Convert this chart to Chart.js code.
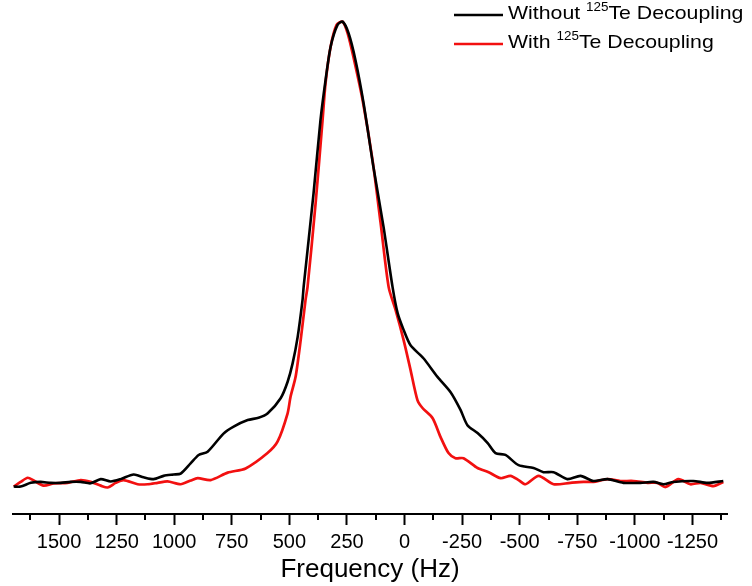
<!DOCTYPE html>
<html>
<head>
<meta charset="utf-8">
<script src="https://cdn.jsdelivr.net/npm/chart.js@4.4.1/dist/chart.umd.min.js"></script>
<style>
  html, body { margin: 0; padding: 0; background: #fff; }
  #wrap { width: 752px; height: 586px; }
</style>
</head>
<body>
<div id="wrap"><canvas id="spectrum" width="752" height="586"></canvas></div>
<script>
// Frequency (Hz) and intensity (peak = 100)
const blackFreq = [1697, 1667, 1623, 1580, 1536, 1493, 1450, 1406, 1363, 1319, 1276, 1233, 1176, 1133, 1089, 1046, 1003, 972, 929, 894, 855, 786, 742, 681, 634, 595, 538, 508, 486, 464, 443, 438, 395, 365, 343, 321, 291, 269, 243, 213, 178, 135, 91, 52, 30, 4, -26, -82, -143, -200, -243, -273, -317, -360, -395, -438, -495, -560, -603, -647, -707, -764, -820, -881, -950, -1024, -1081, -1124, -1167, -1254, -1315, -1384];
const blackInt = [0.1, 0.1, 0.9, 1.1, 0.9, 0.9, 1.1, 1.1, 0.8, 1.7, 1.2, 1.7, 2.7, 2.1, 1.7, 2.4, 2.7, 2.9, 5.1, 6.9, 7.6, 11.5, 13.0, 14.4, 14.9, 15.8, 19.1, 22.6, 26.6, 32.3, 40.2, 43.1, 63.2, 78.9, 87.5, 94.7, 99.4, 100.1, 97.6, 91.8, 82.6, 68.8, 55.9, 43.0, 37.4, 33.8, 30.5, 27.7, 23.7, 20.4, 16.6, 13.3, 11.6, 9.5, 7.3, 6.9, 4.7, 4.1, 3.2, 3.2, 1.7, 2.4, 1.3, 1.7, 0.9, 0.9, 1.1, 0.6, 1.1, 1.3, 0.9, 1.3];

const redFreq = [1697, 1667, 1636, 1610, 1567, 1523, 1463, 1406, 1363, 1319, 1289, 1254, 1220, 1159, 1115, 1072, 1029, 972, 929, 898, 842, 768, 690, 595, 551, 508, 495, 473, 451, 430, 421, 386, 356, 343, 321, 295, 269, 247, 221, 182, 139, 104, 69, 39, 4, -26, -56, -78, -122, -156, -191, -221, -256, -317, -365, -417, -460, -495, -525, -582, -647, -720, -777, -820, -881, -937, -994, -1055, -1098, -1133, -1189, -1241, -1285, -1341, -1384];
const redInt = [0.1, 1.1, 2.0, 1.4, 0.3, 0.8, 0.9, 1.5, 1.1, 0.3, -0.1, 0.9, 1.5, 0.6, 0.6, 0.9, 1.2, 0.6, 1.4, 1.9, 1.5, 3.1, 4.0, 7.3, 9.8, 15.8, 19.4, 23.7, 31.6, 40.2, 43.1, 61.1, 78.9, 86.9, 94.7, 99.4, 100.1, 97.6, 92.3, 83.2, 70.3, 56.8, 43.0, 38.1, 31.6, 25.2, 18.7, 17.0, 14.8, 10.8, 7.3, 6.2, 6.2, 4.1, 3.2, 1.9, 2.4, 1.5, 0.6, 2.4, 0.6, 0.9, 1.1, 1.1, 1.7, 1.3, 1.3, 0.9, 0.9, 0.0, 1.7, 0.6, 0.9, 0.2, 1.1];

const xMin = -1400;
const xMax = 1700;
const tickStep = 125;

const seriesNames = ['Without', 'With'];
const seriesColors = ['#000000', '#f21010'];

function toPoints(freqs, ints) {
  return freqs.map((f, i) => ({ x: f, y: ints[i] }));
}

function isMajor(value) {
  return Math.abs(value) % 250 === 0;
}

// minor ticks are shorter than the major ones, so draw them separately
const minorTicks = {
  id: 'minorTicks',
  afterDraw(chart) {
    const scale = chart.scales.x;
    const ctx = chart.ctx;
    ctx.save();
    ctx.strokeStyle = '#000';
    ctx.lineWidth = 2;
    scale.ticks.forEach((t) => {
      if (isMajor(t.value)) return;
      const px = Math.round(scale.getPixelForValue(t.value));
      ctx.beginPath();
      ctx.moveTo(px, scale.top);
      ctx.lineTo(px, scale.top + 6);
      ctx.stroke();
    });
    ctx.restore();
  },
};

// legend with superscript isotope labels
const isotopeLegend = {
  id: 'isotopeLegend',
  afterDraw(chart) {
    const ctx = chart.ctx;
    const rows = [15, 44];
    ctx.save();
    seriesNames.forEach((name, i) => {
      const y = rows[i];
      ctx.strokeStyle = seriesColors[i];
      ctx.lineWidth = 2.6;
      ctx.beginPath();
      ctx.moveTo(454, y);
      ctx.lineTo(503, y);
      ctx.stroke();

      ctx.save();
      ctx.translate(508, y + 4);
      ctx.scale(1.12, 1);
      ctx.fillStyle = '#000';
      ctx.textBaseline = 'alphabetic';
      ctx.font = '19px "Liberation Sans", Arial, sans-serif';
      let x = 0;
      const first = name + ' ';
      ctx.fillText(first, x, 0);
      x += ctx.measureText(first).width;
      ctx.font = '12px "Liberation Sans", Arial, sans-serif';
      ctx.fillText('125', x, -8);
      x += ctx.measureText('125').width;
      ctx.font = '19px "Liberation Sans", Arial, sans-serif';
      ctx.fillText('Te Decoupling', x, 0);
      ctx.restore();
    });
    ctx.restore();
  },
};

new Chart(document.getElementById('spectrum'), {
  type: 'line',
  data: {
    datasets: [
      {
        label: 'Without 125Te Decoupling',
        data: toPoints(blackFreq, blackInt),
        borderColor: seriesColors[0],
        borderWidth: 2.6,
        pointRadius: 0,
        tension: 0.25,
        fill: false,
      },
      {
        label: 'With 125Te Decoupling',
        data: toPoints(redFreq, redInt),
        borderColor: seriesColors[1],
        borderWidth: 2.7,
        pointRadius: 0,
        tension: 0.25,
        fill: false,
      },
    ],
  },
  options: {
    responsive: false,
    animation: false,
    layout: { padding: { left: 13, right: 25, top: 10, bottom: 0 } },
    plugins: {
      legend: { display: false },
      tooltip: { enabled: false },
    },
    scales: {
      x: {
        type: 'linear',
        reverse: true,
        min: xMin,
        max: xMax,
        afterBuildTicks(scale) {
          const ticks = [];
          for (let v = -1375; v <= 1625; v += tickStep) ticks.push({ value: v });
          scale.ticks = ticks;
        },
        afterFit(scale) {
          scale.height = 72;
        },
        ticks: {
          autoSkip: false,
          maxRotation: 0,
          padding: 5,
          color: '#000',
          font: { family: '"Liberation Sans", Arial, sans-serif', size: 20 },
          callback(value) {
            if (!isMajor(value) || value < -1250 || value > 1500) return '';
            return String(value);
          },
        },
        border: { display: true, color: '#000', width: 2 },
        grid: {
          drawOnChartArea: false,
          drawTicks: true,
          tickLength: 11,
          tickWidth: 2,
          tickColor: (ctx) => (ctx.tick && isMajor(ctx.tick.value) ? '#000' : 'rgba(0,0,0,0)'),
        },
        title: {
          display: true,
          text: 'Frequency (Hz)',
          color: '#000',
          padding: { top: 0, bottom: 1 },
          font: { family: '"Liberation Sans", Arial, sans-serif', size: 26 },
        },
      },
      y: {
        display: false,
        min: -5.8,
        max: 102.6,
      },
    },
  },
  plugins: [minorTicks, isotopeLegend],
});
</script>
</body>
</html>
